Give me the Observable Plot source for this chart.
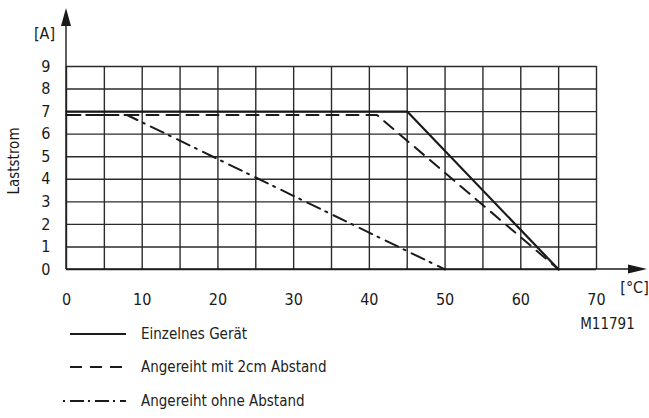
<!DOCTYPE html>
<html>
<head>
<meta charset="utf-8">
<script src="https://cdn.jsdelivr.net/npm/d3@7"></script>
<script src="https://cdn.jsdelivr.net/npm/@observablehq/plot@0.6"></script>
<style>
  html, body { margin: 0; padding: 0; background: #fff; }
  body { width: 649px; height: 418px; overflow: hidden;
         font-family: "Liberation Sans Narrow", "DejaVu Sans Condensed", "Roboto Condensed", Roboto, sans-serif; color: #222; }
  #legend { margin-top: -28px; }
  .row { height: 33.5px; display: flex; align-items: center; font-size: 15px; }
  .row svg { margin-left: 60px; width: 70px; height: 10px; }
  .row span { margin-left: 11px; }
</style>
</head>
<body>
<div id="chart"></div>
<div id="legend"></div>
<script>
// ---- data ----
const seriesNames = ["Einzelnes Gerät", "Angereiht mit 2cm Abstand", "Angereiht ohne Abstand"];
const tempSingle = [0, 45, 65];
const ampSingle  = [7, 7, 0];
const temp2cm    = [0, 41, 65];
const amp2cm     = [6.85, 6.85, 0];
const tempNone   = [0, 8, 50];
const ampNone    = [6.85, 6.85, 0];
const xTicks = [0, 10, 20, 30, 40, 50, 60, 70];
const yTicks = [0, 1, 2, 3, 4, 5, 6, 7, 8, 9];
const xGrid  = [0, 5, 10, 15, 20, 25, 30, 35, 40, 45, 50, 55, 60, 65, 70];
const yUnit = "[A]", xUnit = "[°C]", yTitle = "Laststrom", code = "M11791";

const dashes = ["none", "12,8", "14,6,2,7"];
const toRows = (t, a) => t.map((v, i) => ({t: v, a: a[i]}));
const rows = [toRows(tempSingle, ampSingle), toRows(temp2cm, amp2cm), toRows(tempNone, ampNone)];

const ink = "#1a1a1a";
const gridInk = "#2b2b2b";

const arrows = (index, scales, values, dim) => {
  const {x, y} = scales;
  const g = d3.create("svg:g").attr("fill", ink).attr("stroke", ink);
  const x0 = x(0), y0 = y(0);
  const yTip = 8, xTip = dim.width - 2;
  g.append("line").attr("x1", x0).attr("x2", x0).attr("y1", y0).attr("y2", yTip + 10).attr("stroke-width", 1.4);
  g.append("path").attr("stroke", "none").attr("d", `M${x0},${yTip}L${x0 - 5},${yTip + 18}L${x0 + 5},${yTip + 18}Z`);
  g.append("line").attr("x1", x0).attr("x2", xTip - 10).attr("y1", y0).attr("y2", y0).attr("stroke-width", 1.4);
  g.append("path").attr("stroke", "none").attr("d", `M${xTip},${y0}L${xTip - 19},${y0 - 4.5}L${xTip - 19},${y0 + 4.5}Z`);
  return g.node();
};

const lab = {textAnchor: "middle", lineAnchor: "middle", fill: ink};

const chart = Plot.plot({
  width: 649,
  height: 345,
  marginLeft: 66,
  marginRight: 53,
  marginTop: 66,
  marginBottom: 76,
  x: {domain: [0, 70]},
  y: {domain: [0, 9]},
  style: {fontFamily: '"Liberation Sans Narrow", "DejaVu Sans Condensed", "Roboto Condensed", Roboto, sans-serif', fontSize: "16px", color: ink, background: "#fff", overflow: "visible"},
  marks: [
    Plot.ruleX(xGrid, {x: d => d, y1: 0, y2: 9, stroke: gridInk, strokeWidth: 1.4}),
    Plot.ruleY(yTicks, {y: d => d, x1: 0, x2: 70, stroke: gridInk, strokeWidth: 1.4}),
    Plot.axisX({ticks: xTicks, tickSize: 0, tickPadding: 24, label: null, fontSize: 16}),
    Plot.axisY({ticks: yTicks, tickSize: 0, tickPadding: 16, label: null, fontSize: 16}),
    arrows,
    ...rows.map((r, i) => Plot.line(r, {x: "t", y: "a", stroke: ink, strokeWidth: i === 0 ? 2.2 : 2, strokeDasharray: dashes[i]})),
    Plot.text([yUnit], {...lab, frameAnchor: "top-left", dx: -22, dy: -33, fontSize: 16}),
    Plot.text([xUnit], {...lab, frameAnchor: "bottom-right", dx: 38, dy: 18, fontSize: 16}),
    Plot.text([code], {...lab, frameAnchor: "bottom-right", dx: 11, dy: 55, fontSize: 15}),
    Plot.text([yTitle], {...lab, frameAnchor: "left", dx: -52, dy: -7, rotate: -90, fontSize: 15})
  ]
});
document.getElementById("chart").append(chart);

const legend = document.getElementById("legend");
seriesNames.forEach((name, i) => {
  const row = document.createElement("div");
  row.className = "row";
  const d = dashes[i] === "none" ? "" : `stroke-dasharray="${i === 2 ? "2,5,14,4" : "12,8"}"`;
  row.innerHTML = `<svg viewBox="0 0 70 10"><line x1="${i === 2 ? 3 : 10}" x2="66" y1="5" y2="5" stroke="${ink}" stroke-width="2.2" ${d}/></svg><span>${name}</span>`;
  legend.append(row);
});
</script>
</body>
</html>
